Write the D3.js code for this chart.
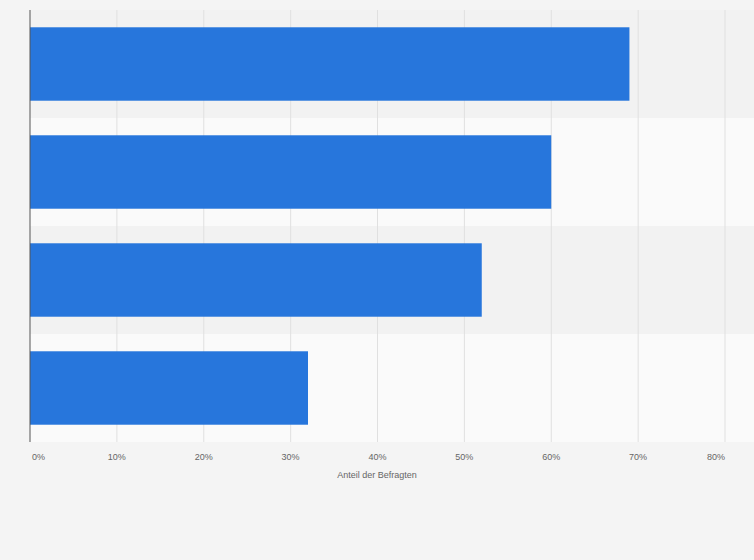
<!DOCTYPE html>
<html><head><meta charset="utf-8">
<script src="https://d3js.org/d3.v7.min.js"></script>
<style>body{margin:0;background:#f4f4f4}</style></head>
<body><svg id="c" width="754" height="560"></svg>
<script>
const categories = ["A","B","C","D"];
const values = [69, 60, 52, 32];
const ticks = [0,10,20,30,40,50,60,70,80];
const svg = d3.select("#c");
svg.append("rect").attr("width",754).attr("height",560).attr("fill","#f4f4f4");
const x = d3.scaleLinear().domain([0,80]).range([30,725]);
const y = d3.scaleBand().domain(categories).range([10,442]).paddingInner(0.32).paddingOuter(0.16);
const band = d3.scaleBand().domain(categories).range([10,442]);
svg.selectAll(".bg").data(categories).enter().append("rect")
  .attr("x",30).attr("width",725-30+30).attr("y",d=>band(d)).attr("height",band.bandwidth())
  .attr("fill",(d,i)=>i%2?"#fafafa":"#f2f2f2");
svg.selectAll(".grid").data(ticks.slice(1)).enter().append("line")
  .attr("x1",d=>x(d)).attr("x2",d=>x(d)).attr("y1",10).attr("y2",442)
  .attr("stroke","#e0e0e0").attr("stroke-width",1);
svg.selectAll(".bar").data(values).enter().append("rect")
  .attr("x",x(0)).attr("y",(d,i)=>y(categories[i])).attr("height",y.bandwidth())
  .attr("width",d=>x(d)-x(0)).attr("fill","#2776dc");
svg.append("line").attr("x1",30).attr("x2",30).attr("y1",10).attr("y2",442).attr("stroke","#555");
svg.selectAll(".tl").data(ticks).enter().append("text")
  .attr("x",(d,i)=>x(d)+(i===0?2:0)).attr("y",460)
  .attr("text-anchor",(d,i)=>i===0?"start":i===ticks.length-1?"end":"middle")
  .attr("font-family","Arial, Liberation Sans, sans-serif").attr("font-size",9).attr("fill","#666")
  .text(d=>d+"%");
svg.append("text").attr("x",377).attr("y",478).attr("text-anchor","middle")
  .attr("font-family","Arial, Liberation Sans, sans-serif").attr("font-size",9).attr("fill","#666")
  .text("Anteil der Befragten");
</script></body></html>
